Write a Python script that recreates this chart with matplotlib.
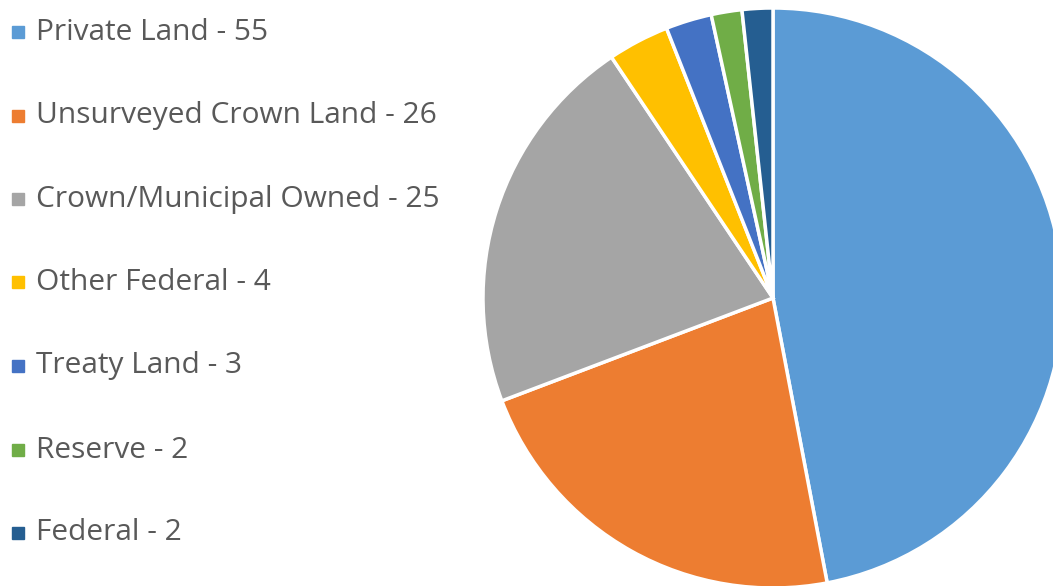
import matplotlib
matplotlib.use("Agg")
import matplotlib.pyplot as plt

labels = ["Private Land", "Unsurveyed Crown Land", "Crown/Municipal Owned",
          "Other Federal", "Treaty Land", "Reserve", "Federal"]
counts = [55, 26, 25, 4, 3, 2, 2]
colors = ["#5B9BD5", "#ED7D31", "#A5A5A5", "#FFC000", "#4472C4", "#70AD47", "#255E91"]

plt.rcParams['font.family'] = ['Open Sans', 'DejaVu Sans']

W, H = 1053, 586
fig = plt.figure(figsize=(W / 100, H / 100), dpi=100)
ax = fig.add_axes([0, 0, 1, 1])

# pie in pixel units, partly running off the right edge
ax.pie(counts, colors=colors, center=(773, H - 298), radius=290,
       startangle=90, counterclock=False,
       wedgeprops=dict(edgecolor="white", linewidth=2.5))

# legend down the left side
row_y = [32, 116, 199, 282, 366, 450, 533]
for lab, n, c, y in zip(labels, counts, colors, row_y):
    ax.plot(18, H - y, marker="s", markersize=8, color=c, linestyle="none")
    ax.text(36, H - y, f"{lab} - {n}", fontsize=21.5, color="#595959",
            va="center", ha="left")

ax.set_xlim(0, W)
ax.set_ylim(0, H)
ax.set_aspect("equal")
ax.axis("off")

fig.savefig("out.png", dpi=100)
